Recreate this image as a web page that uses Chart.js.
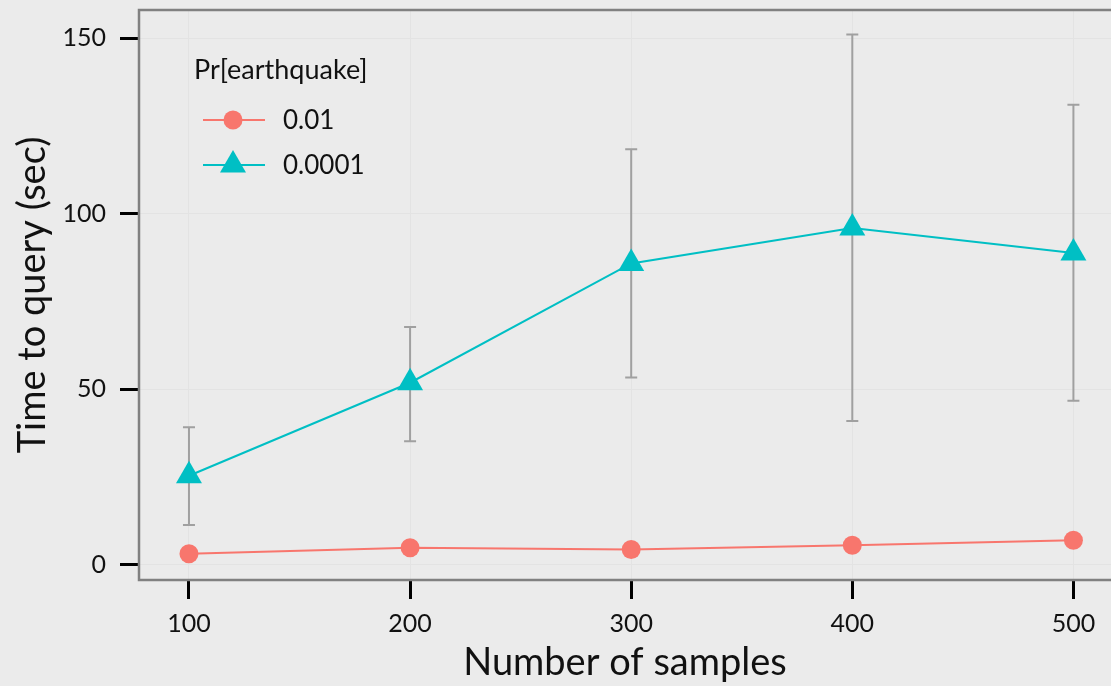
<!DOCTYPE html>
<html>
<head>
<meta charset="utf-8">
<script src="https://cdn.jsdelivr.net/npm/chart.js@4/dist/chart.umd.min.js"></script>
<style>
  html, body { margin: 0; padding: 0; background: #ebebeb; overflow: hidden; }
  #wrap { width: 1111px; height: 686px; }
</style>
</head>
<body>
<div id="wrap"><canvas id="chart"></canvas></div>
<script>
const samples = [100, 200, 300, 400, 500];
const prHigh = [3.1, 4.8, 4.3, 5.5, 6.9];        // Pr = 0.01
const prLow = [25.3, 51.8, 85.8, 95.9, 88.8];     // Pr = 0.0001
const prLowErrMin = [11.3, 35.1, 53.3, 40.9, 46.7];
const prLowErrMax = [39.1, 67.7, 118.3, 151.0, 131.0];
const xTicks = [100, 200, 300, 400, 500];
const yTicks = [0, 50, 100, 150];

const FONT = "Lato, 'Noto Sans', sans-serif";
const RED = "#f8766d";
const CYAN = "#00bfc4";

// error bars under the markers
const errorBars = {
  id: "errorBars",
  beforeDatasetsDraw(chart) {
    const ctx = chart.ctx;
    const x = chart.scales.x, y = chart.scales.y;
    ctx.save();
    ctx.strokeStyle = "#a0a0a0";
    ctx.lineWidth = 2;
    samples.forEach((s, i) => {
      const px = x.getPixelForValue(s);
      const top = y.getPixelForValue(prLowErrMax[i]);
      const bot = y.getPixelForValue(prLowErrMin[i]);
      ctx.beginPath();
      ctx.moveTo(px, top); ctx.lineTo(px, bot);
      ctx.moveTo(px - 6, top); ctx.lineTo(px + 6, top);
      ctx.moveTo(px - 6, bot); ctx.lineTo(px + 6, bot);
      ctx.stroke();
    });
    ctx.restore();
  }
};

// panel border (left, top, bottom) + legend
const frameAndLegend = {
  id: "frameAndLegend",
  afterDraw(chart) {
    const ctx = chart.ctx;
    const a = chart.chartArea;
    ctx.save();
    ctx.strokeStyle = "#808080";
    ctx.lineWidth = 2.5;
    ctx.beginPath();
    ctx.moveTo(a.right + 5, a.top);
    ctx.lineTo(a.left, a.top);
    ctx.lineTo(a.left, a.bottom);
    ctx.lineTo(a.right + 5, a.bottom);
    ctx.stroke();

    ctx.fillStyle = "#111";
    ctx.textBaseline = "middle";
    ctx.textAlign = "left";
    ctx.font = "27px " + FONT;
    ctx.fillText("Pr[earthquake]", 194, 70);

    ctx.font = "26px " + FONT;
    chart.data.datasets.forEach((ds, i) => {
      const cy = 120 + i * 45;
      ctx.strokeStyle = ds.borderColor;
      ctx.lineWidth = 2;
      ctx.beginPath();
      ctx.moveTo(203, cy); ctx.lineTo(265, cy);
      ctx.stroke();
      ctx.fillStyle = ds.backgroundColor;
      ctx.beginPath();
      if (ds.pointStyle === "triangle") {
        const r = 15;
        ctx.moveTo(233, cy - r);
        ctx.lineTo(233 + r * 0.866, cy + r * 0.5);
        ctx.lineTo(233 - r * 0.866, cy + r * 0.5);
        ctx.closePath();
      } else {
        ctx.arc(233, cy, 9.5, 0, Math.PI * 2);
      }
      ctx.fill();
      ctx.fillStyle = "#111";
      ctx.fillText(ds.label, 283, cy + 1);
    });
    ctx.restore();
  }
};

new Chart(document.getElementById("chart"), {
  type: "line",
  data: {
    labels: samples,
    datasets: [
      {
        label: "0.01",
        data: samples.map((s, i) => ({ x: s, y: prHigh[i] })),
        borderColor: RED,
        backgroundColor: RED,
        borderWidth: 2,
        pointStyle: "circle",
        pointRadius: 9.5,
        pointBorderWidth: 0,
        tension: 0
      },
      {
        label: "0.0001",
        data: samples.map((s, i) => ({ x: s, y: prLow[i] })),
        borderColor: CYAN,
        backgroundColor: CYAN,
        borderWidth: 2,
        pointStyle: "triangle",
        pointRadius: 15,
        pointBorderWidth: 0,
        tension: 0
      }
    ]
  },
  options: {
    responsive: true,
    maintainAspectRatio: false,
    animation: false,
    layout: { autoPadding: false, padding: { top: 10, right: 0, left: 0, bottom: 0 } },
    plugins: { legend: { display: false }, tooltip: { enabled: false } },
    scales: {
      x: {
        type: "linear",
        min: 77.4,
        max: 517,
        afterBuildTicks: (s) => { s.ticks = xTicks.map(v => ({ value: v })); },
        afterFit: (s) => { s.height = 106; s.paddingLeft = 0; s.paddingRight = 0; },
        grid: { color: "#e3e3e3", lineWidth: 1, tickColor: "#000", tickWidth: 3, tickLength: 19 },
        border: { display: false },
        ticks: { color: "#111", font: { family: FONT, size: 25 }, padding: 10, maxRotation: 0 },
        title: { display: true, text: "Number of samples", color: "#111", font: { family: FONT, size: 38 }, padding: { top: 0, bottom: 0 } }
      },
      y: {
        min: -4.4,
        max: 158,
        afterBuildTicks: (s) => { s.ticks = yTicks.map(v => ({ value: v })); },
        afterFit: (s) => { s.width = 139; s.paddingTop = 0; s.paddingBottom = 0; },
        grid: { color: "#e3e3e3", lineWidth: 1, tickColor: "#000", tickWidth: 3, tickLength: 19 },
        border: { display: false },
        ticks: { color: "#111", font: { family: FONT, size: 25 }, padding: 14 },
        title: { display: true, text: "Time to query (sec)", color: "#111", font: { family: FONT, size: 38 }, padding: { top: 10, bottom: 0 } }
      }
    }
  },
  plugins: [errorBars, frameAndLegend]
});
</script>
</body>
</html>
